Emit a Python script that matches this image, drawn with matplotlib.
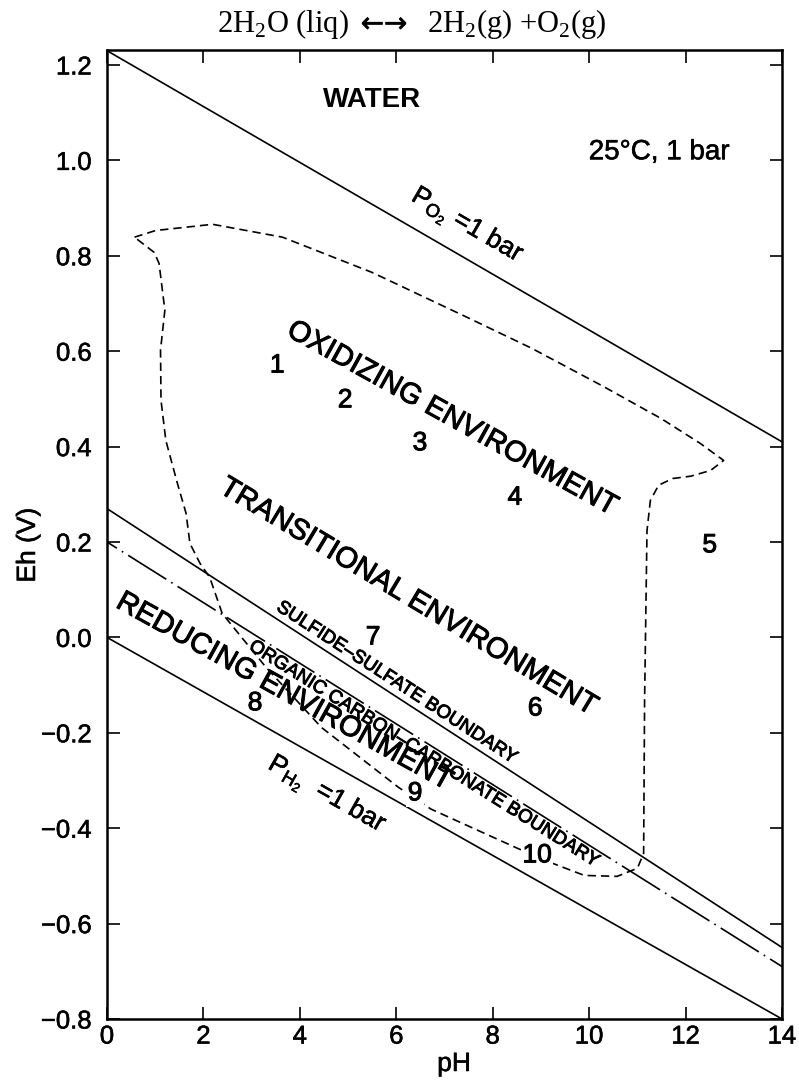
import numpy as np
import matplotlib
matplotlib.use("Agg")
import matplotlib.pyplot as plt
import matplotlib.patheffects as pe

# Eh-pH stability field of water, 25 C and 1 bar
plt.rcParams['font.family'] = ['Liberation Sans', 'DejaVu Sans']
plt.rcParams['mathtext.fontset'] = 'custom'
plt.rcParams['mathtext.rm'] = 'Liberation Serif'
plt.rcParams['mathtext.sf'] = 'Liberation Sans'

# straight boundaries, end points at pH 0 and pH 14
ph_ends = [0, 14]
o2_eh = [1.23, 0.41]        # P_O2 = 1 bar
h2_eh = [0.0, -0.80]        # P_H2 = 1 bar
sulfide_eh = [0.27, -0.65]  # sulfide-sulfate boundary
carbon_eh = [0.20, -0.69]   # organic carbon-carbonate boundary

# dashed envelope of natural waters
env_ph = [0.57, 1.01, 2.19, 3.64, 5.50, 7.51, 8.81, 10.26, 11.49, 12.30, 12.79,
          12.52, 12.11, 11.73, 11.44, 11.27, 11.20, 11.15, 11.13, 11.00, 10.58,
          9.90, 9.20, 8.51, 6.72, 6.04, 4.45, 3.30, 2.39, 2.13, 1.93, 1.72, 1.64,
          1.46, 1.22, 1.12, 1.11, 1.20, 1.08, 0.98, 0.57]
env_eh = [0.839, 0.853, 0.866, 0.839, 0.765, 0.669, 0.606, 0.528, 0.459, 0.407, 0.371,
          0.350, 0.338, 0.333, 0.319, 0.287, 0.224, -0.132, -0.453, -0.484, -0.501,
          -0.499, -0.472, -0.442, -0.360, -0.314, -0.189, -0.063, 0.050, 0.126, 0.155,
          0.197, 0.260, 0.323, 0.413, 0.497, 0.602, 0.686, 0.784, 0.807, 0.839]

# numbered sample sites
site_labels = ['1', '2', '3', '4', '5', '6', '7', '8', '9', '10']
site_ph = [3.53, 4.94, 6.49, 8.46, 12.5, 8.88, 5.52, 3.07, 6.39, 8.92]
site_eh = [0.570, 0.497, 0.407, 0.293, 0.193, -0.149, 0.0, -0.138, -0.327, -0.457]

x_ticks = [0, 2, 4, 6, 8, 10, 12, 14]
y_ticks = [-0.8, -0.6, -0.4, -0.2, 0.0, 0.2, 0.4, 0.6, 0.8, 1.0, 1.2]
y_ticklabels = ['\u22120.8', '\u22120.6', '\u22120.4', '\u22120.2', '0.0', '0.2',
                '0.4', '0.6', '0.8', '1.0', '1.2']

W, H = 799, 1082
fig = plt.figure(figsize=(W / 100, H / 100), dpi=100)
ax = fig.add_axes([107 / W, 1 - 1019 / H, 675 / W, 969 / H])
ax.set_xlim(0, 14)
ax.set_ylim(-0.8, 1.2314)

# a thin outline makes the lettering as heavy as the scanned original
heavy = [pe.withStroke(linewidth=0.7, foreground='black')]
medium = [pe.withStroke(linewidth=0.4, foreground='black')]


def line_angle(eh):
    p = ax.transData.transform([(ph_ends[0], eh[0]), (ph_ends[1], eh[1])])
    return np.degrees(np.arctan2(p[1, 1] - p[0, 1], p[1, 0] - p[0, 0]))


lw = 1.2
ax.plot(ph_ends, o2_eh, color='black', lw=lw)
ax.plot(ph_ends, h2_eh, color='black', lw=lw)
ax.plot(ph_ends, sulfide_eh, color='black', lw=lw)
ax.plot(ph_ends, carbon_eh, color='black', lw=lw, ls=(20, (27, 3.5, 1, 3.5)))
ax.plot(env_ph, env_eh, color='black', lw=lw, ls=(0, (5, 3)))

for lab, x, y in zip(site_labels, site_ph, site_eh):
    t = ax.text(x, y, lab, fontsize=19, ha='center', va='center', zorder=5,
                path_effects=heavy)
    if lab in ('9', '10'):
        t.set_bbox(dict(facecolor='white', edgecolor='none', pad=1))

ax.text(5.5, 1.126, 'WATER', fontsize=20, fontweight='bold', ha='center', va='center')
ax.text(11.45, 1.017, '25\u00b0C, 1 bar', fontsize=20, ha='center', va='center',
        path_effects=medium)

a_o2 = line_angle(o2_eh)
a_h2 = line_angle(h2_eh)
ax.text(7.47, 0.862, r'$\mathsf{P_{O_2}}$ =1 bar', fontsize=19, rotation=a_o2,
        ha='center', va='center', rotation_mode='anchor', path_effects=medium)
ax.text(4.56, -0.331, r'$\mathsf{P_{H_2}}$  =1 bar', fontsize=19, rotation=a_h2,
        ha='center', va='center', rotation_mode='anchor', path_effects=medium)

ax.text(7.15, 0.46, 'OXIDIZING ENVIRONMENT', fontsize=21, rotation=-29,
        ha='center', va='center', rotation_mode='anchor', path_effects=heavy)
ax.text(6.24, 0.086, 'TRANSITIONAL ENVIRONMENT', fontsize=21, rotation=-31,
        ha='center', va='center', rotation_mode='anchor', path_effects=heavy)
ax.text(3.67, -0.113, 'REDUCING ENVIRONMENT', fontsize=21, rotation=-29,
        ha='center', va='center', rotation_mode='anchor', path_effects=heavy)

p_s = 5.91
ax.text(p_s, np.interp(p_s, ph_ends, sulfide_eh) + 0.008, 'SULFIDE\u2013SULFATE BOUNDARY',
        fontsize=13.5, rotation=line_angle(sulfide_eh), ha='center', va='bottom',
        rotation_mode='anchor', path_effects=heavy)
p_c = 6.66
ax.text(p_c, np.interp(p_c, ph_ends, carbon_eh) - 0.006, 'ORGANIC CARBON\u2013CARBONATE BOUNDARY',
        fontsize=13.5, rotation=line_angle(carbon_eh), ha='center', va='top',
        rotation_mode='anchor', path_effects=heavy)

ax.set_xticks(x_ticks)
ax.set_yticks(y_ticks)
ax.set_yticklabels(y_ticklabels)
ax.tick_params(direction='in', length=9, width=1.2, top=True, right=True, labelsize=18.5)
ax.tick_params(axis='x', pad=4)
ax.tick_params(axis='y', pad=11)
for lab in ax.get_xticklabels() + ax.get_yticklabels():
    lab.set_path_effects(medium)
for s in ax.spines.values():
    s.set_linewidth(1.8)

ax.set_xlabel('pH', fontsize=19, path_effects=medium)
ax.xaxis.set_label_coords((454 - 107) / 675, (1019 - 1052) / 969)
ax.set_ylabel('Eh (V)', fontsize=19, path_effects=medium)
ax.yaxis.set_label_coords((40 - 107) / 675, (1019 - 545) / 969)

# reaction written above the frame, arrows taken from DejaVu Sans
base = 1 - 32 / H
serif = ['Liberation Serif', 'DejaVu Serif']
fig.text(349 / W, base, '2H$_2$O (liq)', fontsize=22, ha='right', va='baseline', family=serif)
fig.text(384 / W, base, '\u2190\u2192', fontsize=20, ha='center', va='baseline',
         family=['DejaVu Sans'], path_effects=medium)
fig.text(427 / W, base, '2H$_2$(g) +O$_2$(g)', fontsize=22, ha='left', va='baseline',
         family=serif)

fig.savefig('out.png', dpi=100)
